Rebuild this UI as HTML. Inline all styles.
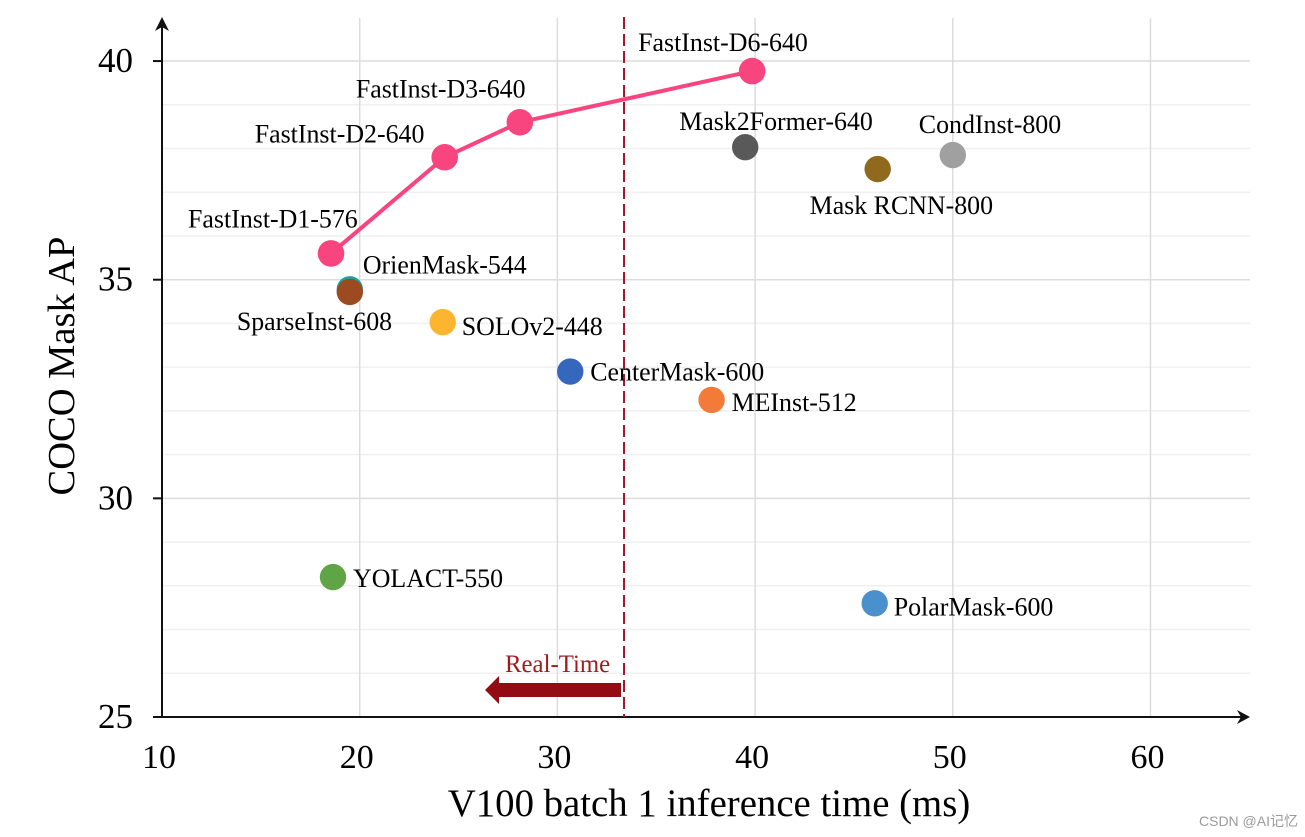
<!DOCTYPE html>
<html lang="en">
<head>
<meta charset="utf-8">
<title>COCO Mask AP vs V100 inference time</title>
<style>
html,body{margin:0;padding:0;background:#fff;width:1305px;height:837px;overflow:hidden}
svg{display:block}
text{font-family:"Liberation Serif","Noto Serif CJK SC",serif;fill:#000}
</style>
</head>
<body>
<svg id="chart" xmlns="http://www.w3.org/2000/svg" width="1305" height="837" viewBox="0 0 1305 837">
  <g id="grid"></g>
  <g id="axes"></g>
  <g id="threshold"></g>
  <g id="series"></g>
  <g id="points"></g>
  <g id="labels"></g>
  <text x="709" y="816" text-anchor="middle" font-size="38.8">V100 batch 1 inference time (ms)</text>
  <text transform="translate(74,366) rotate(-90)" text-anchor="middle" font-size="38.5">COCO Mask AP</text>
  <text x="1199" y="826" font-size="14" style="font-family:'Liberation Sans','Noto Sans CJK SC',sans-serif;fill:#9a9a9a">CSDN @AI记忆</text>
</svg>
<script>
// ---- chart data ----
const fastInstNames = ['FastInst-D1-576', 'FastInst-D2-640', 'FastInst-D3-640', 'FastInst-D6-640'];
const fastInstTime = [18.55, 24.3, 28.1, 39.85];
const fastInstAP = [35.6, 37.8, 38.6, 39.77];

const otherNames = ['Mask2Former-640', 'Mask RCNN-800', 'CondInst-800', 'OrienMask-544', 'SparseInst-608', 'SOLOv2-448', 'CenterMask-600', 'MEInst-512', 'YOLACT-550', 'PolarMask-600'];
const otherTime = [39.5, 46.2, 50, 19.5, 19.5, 24.2, 30.65, 37.8, 18.65, 46.05];
const otherAP = [38.03, 37.53, 37.85, 34.78, 34.72, 34.03, 32.9, 32.25, 28.2, 27.6];

const xTicks = [10, 20, 30, 40, 50, 60];
const xGridValues = [20, 30, 40, 50, 60];
const yTicks = [25, 30, 35, 40];
const yMinorGrid = [26, 27, 28, 29, 31, 32, 33, 34, 36, 37, 38, 39];
const realTimeLimit = 33.37;
const realTimeLabel = ['Real-Time'];

// ---- layout and style (not data) ----
const otherColors = ['#595959', '#8f6a1e', '#a0a0a0', '#12a5a5', '#9c4a1f', '#fdb52f', '#3567bd', '#f47a3a', '#5fa545', '#4a90cc'];
const fastInstColor = '#f9457f';
const fastInstLabelOffset = [[-143, -26], [-190, -15], [-164, -25], [-114, -20]];
const otherLabelOffset = [[-66, -17], [-68, 45], [-34, -22], [13, -16], [-113, 38], [19, 13], [20, 9], [20, 11], [20, 10], [19, 12]];

function xScale(v) { return 162 + (v - 10) * 19.77; }
function yScale(v) { return 717 - (v - 25) * 43.73; }

const NS = 'http://www.w3.org/2000/svg';
function make(parent, tag, attrs, text) {
  const el = document.createElementNS(NS, tag);
  for (const k in attrs) el.setAttribute(k, attrs[k]);
  if (text !== undefined) el.textContent = text;
  parent.appendChild(el);
  return el;
}

const grid = document.getElementById('grid');
const axes = document.getElementById('axes');
const threshold = document.getElementById('threshold');
const series = document.getElementById('series');
const points = document.getElementById('points');
const labels = document.getElementById('labels');

// minor horizontal grid
yMinorGrid.forEach(function (v) {
  const el = make(grid, 'line', { x1: 162, x2: 1250, y1: yScale(v), y2: yScale(v), stroke: '#f0f0f0', 'stroke-width': 1.5 });
  
  
});
// major horizontal grid
yTicks.filter(function (v) { return v > 25; }).forEach(function (v) {
  const el = make(grid, 'line', { x1: 162, x2: 1250, y1: yScale(v), y2: yScale(v), stroke: '#dcdcdc', 'stroke-width': 1.5 });
  
  
});
// vertical grid
xGridValues.forEach(function (v) {
  const el = make(grid, 'line', { x1: xScale(v), x2: xScale(v), y1: 18, y2: 717, stroke: '#dcdcdc', 'stroke-width': 1.5 });
  
  
});

// axes
const yAxisLine = make(axes, 'line', { x1: 162, x2: 162, y1: 717, y2: 24, stroke: '#111', 'stroke-width': 2 });


const yAxisArrow = make(axes, 'path', { d: 'M162 17 L169 31 L162 27 L155 31 Z', fill: '#111' });


const xAxisLine = make(axes, 'line', { x1: 153, x2: 1243, y1: 717, y2: 717, stroke: '#111', 'stroke-width': 2 });


const xAxisArrow = make(axes, 'path', { d: 'M1250 717 L1237 710 L1241 717 L1237 724 Z', fill: '#111' });



yTicks.forEach(function (v) {
  const t = make(axes, 'line', { x1: 153, x2: 162, y1: yScale(v), y2: yScale(v), stroke: '#111', 'stroke-width': 2 });
  
  
  const l = make(axes, 'text', { x: 133, y: yScale(v) + 11, 'text-anchor': 'end', 'font-size': 35 }, String(v));
  
  
});
xTicks.forEach(function (v) {
  const l = make(axes, 'text', { x: xScale(v) - 3, y: 768, 'text-anchor': 'middle', 'font-size': 34 }, String(v));
  
  
});

// real-time threshold
const limitX = xScale(realTimeLimit);
const limitLine = make(threshold, 'line', { x1: limitX, x2: limitX, y1: 17, y2: 717, stroke: '#a5152a', 'stroke-width': 2, 'stroke-dasharray': '12 5' });


const limitArrow = make(threshold, 'path', {
  d: 'M' + (limitX - 3) + ' 683 H' + (limitX - 125) + ' V676 L' + (limitX - 139) + ' 690 L' + (limitX - 125) + ' 704 V697 H' + (limitX - 3) + ' Z',
  fill: '#930c14'
});


const limitText = make(threshold, 'text', { x: limitX - 119, y: 672, 'font-size': 24.8, style: 'fill:#a01a20' }, realTimeLabel[0]);



// FastInst line and points
const linePts = fastInstTime.map(function (t, i) { return xScale(t) + ',' + yScale(fastInstAP[i]); }).join(' ');
const fastLine = make(series, 'polyline', { points: linePts, fill: 'none', stroke: fastInstColor, 'stroke-width': 4 });



fastInstTime.forEach(function (t, i) {
  const cx = xScale(t), cy = yScale(fastInstAP[i]);
  const c = make(series, 'circle', { cx: cx, cy: cy, r: 13.3, fill: fastInstColor });
  
  
  const l = make(labels, 'text', { x: cx + fastInstLabelOffset[i][0], y: cy + fastInstLabelOffset[i][1], 'font-size': 25.9 }, fastInstNames[i]);
  
  
});

// other methods
otherTime.forEach(function (t, i) {
  const cx = xScale(t), cy = yScale(otherAP[i]);
  const c = make(points, 'circle', { cx: cx, cy: cy, r: 13.2, fill: otherColors[i] });
  
  
  const l = make(labels, 'text', { x: cx + otherLabelOffset[i][0], y: cy + otherLabelOffset[i][1], 'font-size': 25.9 }, otherNames[i]);
  
  
});
</script>
</body>
</html>
